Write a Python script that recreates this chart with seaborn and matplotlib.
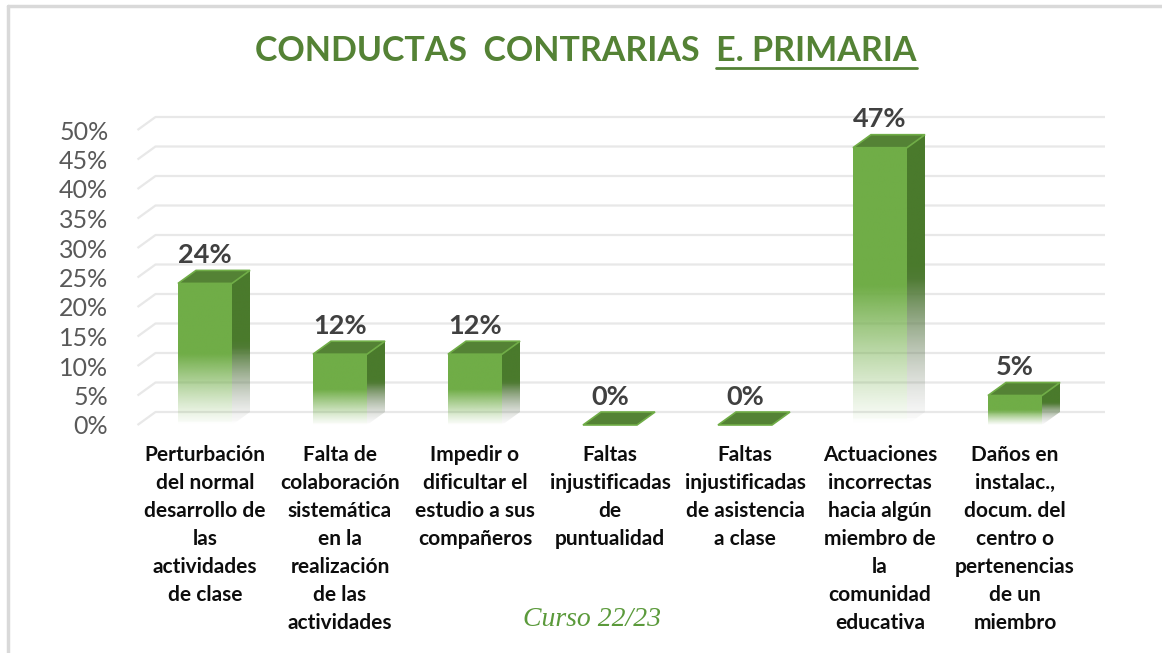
import numpy as np
import pandas as pd
import matplotlib
matplotlib.use("Agg")
import matplotlib.pyplot as plt
from matplotlib.patches import Polygon
from matplotlib.colors import to_rgb
import seaborn as sns

categorias = ["Perturbación\ndel normal\ndesarrollo de\nlas\nactividades\nde clase",
              "Falta de\ncolaboración\nsistemática\nen la\nrealización\nde las\nactividades",
              "Impedir o\ndificultar el\nestudio a sus\ncompañeros",
              "Faltas\ninjustificadas\nde\npuntualidad",
              "Faltas\ninjustificadas\nde asistencia\na clase",
              "Actuaciones\nincorrectas\nhacia algún\nmiembro de\nla\ncomunidad\neducativa",
              "Daños en\ninstalac.,\ndocum. del\ncentro o\npertenencias\nde un\nmiembro"]
porcentajes = [0.24, 0.12, 0.12, 0.0, 0.0, 0.47, 0.05]
ticks_y = [0, 0.05, 0.10, 0.15, 0.20, 0.25, 0.30, 0.35, 0.40, 0.45, 0.50]

df = pd.DataFrame({"cat": categorias, "val": porcentajes})

verde = "#70AD47"
verde_osc = "#4A7A2C"
verde_top = "#548235"
gris_grid = "#E8E8E8"

sns.set_style("white")
plt.rcParams["font.family"] = ["Lato", "DejaVu Sans"]

W, H = 1162, 653
fig = plt.figure(figsize=(W / 100, H / 100), dpi=100)
fig.patch.set_facecolor("white")
# plot area in pixels: x 137.5..1082.5, y(from top) 130..425
ax = fig.add_axes([137.5 / W, (H - 425) / H, 945 / W, 295 / H])

sns.barplot(data=df, x="cat", y="val", width=0.4, color=verde, ax=ax, zorder=3)

# depth offset of the fake 3d
dx = 18 / 135
dy = 13 / 590

# gridlines on back wall with slanted part on the left wall
x_end = (1105 - 137.5) / 135 - 0.5
for v in ticks_y:
    ax.plot([-0.5, -0.5 + dx, x_end], [v, v + dy, v + dy], color=gris_grid,
            lw=1.6, zorder=1, clip_on=False, solid_capstyle="butt")

n = 256
t = np.linspace(0, 1, n)[:, None]  # 0 = top, 1 = bottom
alpha = np.clip(1 - (t - 0.5) / 0.5, 0, 1) ** 1.2
alpha[t[:, 0] < 0.5] = 1
alpha = alpha * 0.97 + 0.03 * (t < 0.98)

front = np.zeros((n, 1, 4))
front[:, :, :3] = to_rgb(verde)
front[:, :, 3] = alpha
side = np.zeros((n, 1, 4))
c_top = np.array(to_rgb(verde_osc))
c_bot = np.array(to_rgb("#8C8C8C"))
mix = np.clip((t - 0.45) / 0.55, 0, 1)
side[:, :, :3] = (c_top * (1 - mix) + c_bot * mix)[:, None, :]
side[:, :, 3] = alpha

for p, v in zip(ax.patches, porcentajes):
    x0 = p.get_x()
    x1 = x0 + p.get_width()
    p.set_facecolor("none")
    p.set_edgecolor("none")
    if v > 0:
        im = ax.imshow(front, extent=[x0, x1, 0, v], aspect="auto", zorder=3,
                       interpolation="bilinear")
        im.set_clip_path(p)
        sp = Polygon([(x1, 0), (x1 + dx, dy), (x1 + dx, v + dy), (x1, v)],
                     closed=True, facecolor="none", edgecolor="none")
        ax.add_patch(sp)
        im2 = ax.imshow(side, extent=[x1, x1 + dx, 0, v + dy], aspect="auto",
                        zorder=3, interpolation="bilinear")
        im2.set_clip_path(sp)
    top = Polygon([(x0, v), (x1, v), (x1 + dx, v + dy), (x0 + dx, v + dy)],
                  closed=True, facecolor=verde_top, edgecolor=verde, lw=1.2,
                  zorder=4, clip_on=False)
    ax.add_patch(top)
    ax.annotate(f"{v:.0%}", (x0 + p.get_width() / 2, v + dy), xytext=(0, 11),
                textcoords="offset points", ha="center", va="center",
                fontsize=19.5, fontweight="bold", color="#404040", zorder=5,
                annotation_clip=False)

ax.set_xlim(-0.5, 6.5)
ax.set_ylim(0, 0.5)
ax.set_yticks(ticks_y)
ax.set_yticklabels([f"{v:.0%}" for v in ticks_y], fontsize=18, color="#595959")
ax.set_xticks(range(len(categorias)))
ax.set_xticklabels(categorias, fontsize=15, fontweight="bold", color="#0D0D0D",
                   linespacing=1.5, va="top")
ax.tick_params(axis="y", length=0, pad=21)
ax.tick_params(axis="x", length=0, pad=14.5)
ax.set_xlabel("")
ax.set_ylabel("")
for s in ax.spines.values():
    s.set_visible(False)
ax.set_facecolor("none")

# title, second part underlined
titulo = "CONDUCTAS  CONTRARIAS  E. PRIMARIA"
parte = "E. PRIMARIA"
fig.canvas.draw()
r = fig.canvas.get_renderer()
ty = 1 - 51 / H
t1 = fig.text(586 / W, ty, titulo, fontsize=24.5, fontweight="bold",
              color=verde_top, va="center", ha="center")
t2 = fig.text(0, 0, parte, fontsize=24.5, fontweight="bold", alpha=0)
b1 = t1.get_window_extent(r)
w2 = t2.get_window_extent(r).width
t2.remove()
fig.add_artist(plt.Line2D([(b1.x1 - w2) / W, b1.x1 / W], [1 - 68 / H, 1 - 68 / H],
                          color=verde_top, lw=2))

fig.text(592 / W, 1 - 620 / H, "Curso 22/23", fontsize=20, style="italic",
         family=["Liberation Serif"], color="#5B9A3B", ha="center", va="center")

# outer frame (only left and top visible)
fig.add_artist(plt.Line2D([8 / W, 8 / W], [0, 1 - 6 / H], color="#D9D9D9", lw=2.5))
fig.add_artist(plt.Line2D([8 / W, 1], [1 - 6 / H, 1 - 6 / H], color="#D9D9D9", lw=2.5))

fig.savefig("out.png", dpi=100, facecolor="white")
